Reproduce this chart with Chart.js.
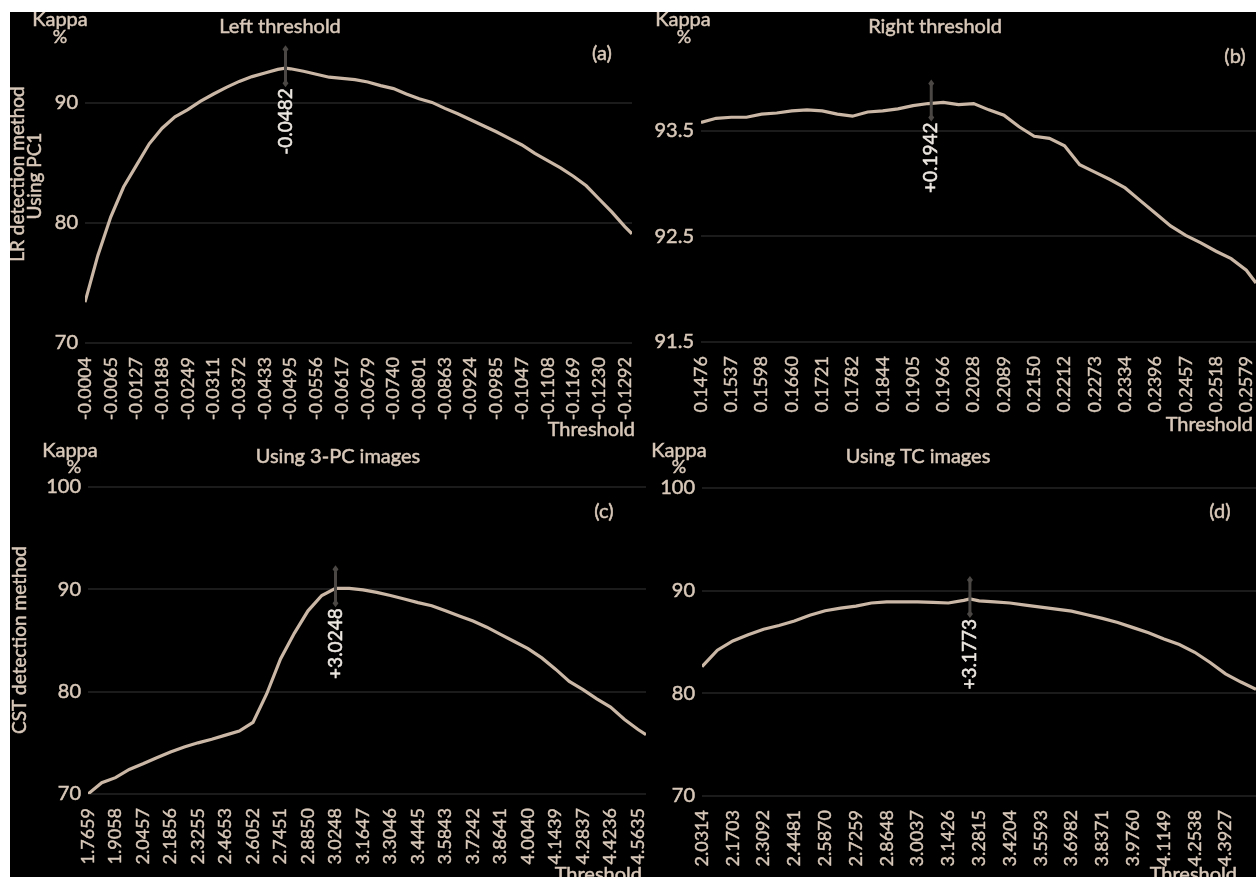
<!DOCTYPE html>
<html>
<head>
<meta charset="utf-8">
<title>Kappa vs threshold</title>
<script src="https://cdn.jsdelivr.net/npm/chart.js@4.4.0/dist/chart.umd.min.js"></script>
<style>
    html, body { margin: 0; padding: 0; background: #fff; overflow: hidden; }
    #board { position: absolute; left: 10px; top: 12px; width: 1246px; height: 865px; background: #000; overflow: hidden; }
    canvas { position: absolute; }
</style>
</head>
<body>
<div id="board">
    <canvas id="chartA" width="630" height="428" style="left:0;top:0"></canvas>
    <canvas id="chartB" width="616" height="428" style="left:630px;top:0"></canvas>
    <canvas id="chartC" width="636" height="445" style="left:0;top:428px"></canvas>
    <canvas id="chartD" width="610" height="445" style="left:636px;top:428px"></canvas>
</div>
<script>
// Etiquetas del eje X (umbral) de cada panel
const ticksA = ['-0.0004', '-0.0065', '-0.0127', '-0.0188', '-0.0249', '-0.0311', '-0.0372', '-0.0433', '-0.0495', '-0.0556', '-0.0617',
    '-0.0679', '-0.0740', '-0.0801', '-0.0863', '-0.0924', '-0.0985', '-0.1047', '-0.1108', '-0.1169', '-0.1230', '-0.1292'];
const ticksB = ['0.1476', '0.1537', '0.1598', '0.1660', '0.1721', '0.1782', '0.1844', '0.1905', '0.1966', '0.2028', '0.2089',
    '0.2150', '0.2212', '0.2273', '0.2334', '0.2396', '0.2457', '0.2518', '0.2579'];
const ticksC = ['1.7659', '1.9058', '2.0457', '2.1856', '2.3255', '2.4653', '2.6052', '2.7451', '2.8850', '3.0248', '3.1647',
    '3.3046', '3.4445', '3.5843', '3.7242', '3.8641', '4.0040', '4.1439', '4.2837', '4.4236', '4.5635'];
const ticksD = ['2.0314', '2.1703', '2.3092', '2.4481', '2.5870', '2.7259', '2.8648', '3.0037', '3.1426', '3.2815', '3.4204',
    '3.5593', '3.6982', '3.8371', '3.9760', '4.1149', '4.2538', '4.3927'];

// Curvas: [posición en el eje de categorías, kappa %]
const curveA = [[0, 73.4], [0.5, 77.3], [1, 80.5], [1.5, 83.0], [2, 84.8], [2.5, 86.6], [3, 87.9], [3.5, 88.85], [4, 89.45],
    [4.5, 90.15], [5, 90.75], [5.5, 91.3], [6, 91.8], [6.5, 92.2], [7, 92.5], [7.5, 92.8], [7.8, 92.9], [8, 92.85], [8.5, 92.65],
    [9, 92.4], [9.5, 92.15], [10, 92.05], [10.5, 91.95], [11, 91.75], [11.5, 91.45], [12, 91.2], [12.5, 90.75], [13, 90.35],
    [13.5, 90.05], [14, 89.55], [14.5, 89.1], [15, 88.6], [15.5, 88.1], [16, 87.6], [16.5, 87.05], [17, 86.5], [17.5, 85.8],
    [18, 85.2], [18.5, 84.6], [19, 83.9], [19.5, 83.1], [20, 82.0], [20.5, 80.9], [21, 79.7], [21.28, 79.1]];
const curveB = [[0, 93.58], [0.5, 93.62], [1, 93.63], [1.5, 93.63], [2, 93.66], [2.5, 93.67], [3, 93.69], [3.5, 93.70], [4, 93.69],
    [4.5, 93.66], [5, 93.64], [5.5, 93.68], [6, 93.69], [6.5, 93.71], [7, 93.74], [7.5, 93.76], [8, 93.77], [8.5, 93.75],
    [9, 93.76], [9.5, 93.70], [10, 93.65], [10.5, 93.54], [11, 93.45], [11.5, 93.43], [12, 93.36], [12.5, 93.18], [13, 93.11],
    [13.5, 93.04], [14, 92.96], [14.5, 92.84], [15, 92.72], [15.5, 92.60], [16, 92.51], [16.5, 92.44], [17, 92.36],
    [17.5, 92.29], [18, 92.18], [18.32, 92.06]];
const curveC = [[0, 70.0], [0.5, 71.1], [1, 71.6], [1.5, 72.4], [2, 72.95], [2.5, 73.55], [3, 74.1], [3.5, 74.6], [4, 75.0],
    [4.5, 75.35], [5, 75.75], [5.5, 76.15], [6, 77.0], [6.5, 79.8], [7, 83.2], [7.5, 85.7], [8, 87.9], [8.5, 89.4], [9, 90.1],
    [9.5, 90.1], [10, 89.95], [10.5, 89.7], [11, 89.4], [11.5, 89.05], [12, 88.7], [12.5, 88.4], [13, 87.9], [13.5, 87.4],
    [14, 86.9], [14.5, 86.3], [15, 85.6], [15.5, 84.9], [16, 84.2], [16.5, 83.3], [17, 82.2], [17.5, 81.0], [18, 80.2],
    [18.5, 79.3], [19, 78.5], [19.5, 77.3], [20, 76.3], [20.29, 75.8]];
const curveD = [[0, 82.6], [0.5, 84.2], [1, 85.1], [1.5, 85.7], [2, 86.25], [2.5, 86.6], [3, 87.05], [3.5, 87.6], [4, 88.05],
    [4.5, 88.3], [5, 88.5], [5.5, 88.8], [6, 88.9], [6.5, 88.9], [7, 88.9], [7.5, 88.85], [8, 88.8], [8.5, 89.05], [8.7, 89.2],
    [9, 89.0], [9.5, 88.9], [10, 88.8], [10.5, 88.6], [11, 88.4], [11.5, 88.2], [12, 88.0], [12.5, 87.65], [13, 87.3],
    [13.5, 86.9], [14, 86.4], [14.5, 85.9], [15, 85.3], [15.5, 84.75], [16, 84.0], [16.5, 83.0], [17, 81.9], [17.5, 81.1],
    [17.99, 80.4]];

// Marcas del eje Y
const yTicksA = [70, 80, 90];
const yTicksB = [91.5, 92.5, 93.5];
const yTicksC = [70, 80, 90, 100];
const yTicksD = [70, 80, 90, 100];

// Umbral óptimo de cada panel: posición, kappa y etiqueta
const peakIndex = [7.8, 7.6, 9.0, 8.7];
const peakKappa = [92.9, 93.77, 90.1, 89.2];
const peakLabels = ['-0.0482', '+0.1942', '+3.0248', '+3.1773'];

const titles = ['Left threshold', 'Right threshold', 'Using 3-PC images', 'Using TC images'];
const panelTags = ['(a)', '(b)', '(c)', '(d)'];

// Colores y fuentes
const lineColor = '#cbb7a5';
const textColor = '#d8c8b9';
const markColor = '#ece6e0';
const gridColor = '#1b1b1b';
const textFont = 'Lato, "Open Sans", sans-serif';

// Textos sueltos (Kappa %, título, letra del panel, títulos de eje) y marca del óptimo
const panelDecor = {
    id: 'panelDecor',
    afterDatasetsDraw(chart, args, opts) {
        const {ctx} = chart;
        const xs = chart.scales.x, ys = chart.scales.y;
        const px = xs.getPixelForValue(opts.peak[0]);
        const py = ys.getPixelForValue(opts.peak[1]);
        ctx.save();
        ctx.strokeStyle = '#4a4744';
        ctx.fillStyle = '#4a4744';
        ctx.lineWidth = 3;
        ctx.beginPath();
        ctx.moveTo(px, py - 17);
        ctx.lineTo(px, py + 13);
        ctx.stroke();
        [py - 19, py + 15].forEach(cy => {
            ctx.beginPath();
            ctx.moveTo(px, cy - 4);
            ctx.lineTo(px + 3, cy);
            ctx.lineTo(px, cy + 4);
            ctx.lineTo(px - 3, cy);
            ctx.closePath();
            ctx.fill();
        });
        ctx.translate(px, py + 20);
        ctx.rotate(-Math.PI / 2);
        ctx.font = '19px ' + textFont;
        ctx.fillStyle = markColor;
        ctx.strokeStyle = markColor;
        ctx.lineWidth = 0.5;
        ctx.textAlign = 'right';
        ctx.textBaseline = 'middle';
        ctx.fillText(opts.peak[2], 0, 0);
        ctx.strokeText(opts.peak[2], 0, 0);
        ctx.restore();
    },
    afterDraw(chart, args, opts) {
        const {ctx} = chart;
        ctx.save();
        ctx.fillStyle = textColor;
        ctx.strokeStyle = textColor;
        ctx.lineWidth = 0.5;
        opts.texts.forEach(t => {
            ctx.save();
            ctx.font = (t.size || 20) + 'px ' + textFont;
            ctx.textAlign = t.align || 'center';
            ctx.textBaseline = t.rot ? 'middle' : 'alphabetic';
            ctx.translate(t.x, t.y);
            if (t.rot) ctx.rotate(-Math.PI / 2);
            ctx.fillText(t.text, 0, 0);
            ctx.strokeText(t.text, 0, 0);
            ctx.restore();
        });
        ctx.restore();
    }
};

function makeChart(id, cfg) {
    const ctx = document.getElementById(id).getContext('2d');
    return new Chart(ctx, {
        type: 'line',
        data: {
            datasets: [{
                data: cfg.curve.map(p => ({x: p[0], y: p[1]})),
                borderColor: lineColor,
                borderWidth: 3.2,
                pointRadius: 0,
                tension: 0,
                fill: false
            }]
        },
        options: {
            responsive: false,
            animation: false,
            events: [],
            layout: {
                padding: {top: cfg.padTop, right: cfg.padRight, left: 0, bottom: 0}
            },
            plugins: {
                legend: {display: false},
                tooltip: {enabled: false},
                panelDecor: {peak: cfg.peak, texts: cfg.texts}
            },
            scales: {
                x: {
                    type: 'linear',
                    min: 0,
                    max: cfg.xMax,
                    grid: {display: false},
                    border: {display: false},
                    afterBuildTicks: scale => {
                        scale.ticks = cfg.ticks.map((label, i) => ({value: i}));
                    },
                    afterFit: scale => {
                        scale.height = cfg.xHeight;
                        scale.paddingLeft = 0;
                        scale.paddingRight = 0;
                    },
                    ticks: {
                        autoSkip: false,
                        minRotation: 90,
                        maxRotation: 90,
                        padding: 6,
                        color: textColor,
                        textStrokeColor: textColor,
                        textStrokeWidth: 0.4,
                        font: {family: textFont, size: 18},
                        callback: value => cfg.ticks[value]
                    }
                },
                y: {
                    type: 'linear',
                    min: cfg.yMin,
                    max: cfg.yMax,
                    grid: {color: gridColor, lineWidth: 2, drawTicks: false},
                    border: {display: false},
                    afterBuildTicks: scale => {
                        scale.ticks = cfg.yTicks.map(v => ({value: v}));
                    },
                    afterFit: scale => {
                        scale.width = cfg.yWidth;
                        scale.paddingTop = 0;
                        scale.paddingBottom = 0;
                    },
                    ticks: {
                        padding: 7,
                        color: textColor,
                        textStrokeColor: textColor,
                        textStrokeWidth: 0.5,
                        font: {family: textFont, size: 20}
                    }
                }
            }
        },
        plugins: [panelDecor]
    });
}

function peakOf(i) {
    return [peakIndex[i], peakKappa[i], peakLabels[i]];
}

// Panel (a)
makeChart('chartA', {
    curve: curveA, ticks: ticksA, yTicks: yTicksA, yMin: 70, yMax: 96, xMax: 21.28,
    yWidth: 75, xHeight: 97, padTop: 19, padRight: 8, peak: peakOf(0),
    texts: [
        {text: 'Kappa', x: 50, y: 14},
        {text: '%', x: 50, y: 31, size: 18},
        {text: titles[0], x: 270, y: 21},
        {text: panelTags[0], x: 592, y: 48},
        {text: 'LR detection method', x: 8, y: 162, rot: true, size: 19},
        {text: 'Using PC1', x: 25, y: 164, rot: true, size: 19},
        {text: 'Threshold', x: 625, y: 424, align: 'right'}
    ]
});

// Panel (b)
makeChart('chartB', {
    curve: curveB, ticks: ticksB, yTicks: yTicksB, yMin: 91.5, yMax: 94.4, xMax: 18.32,
    yWidth: 61, xHeight: 98, padTop: 24, padRight: 0, peak: peakOf(1),
    texts: [
        {text: 'Kappa', x: 43, y: 14},
        {text: '%', x: 44, y: 31, size: 18},
        {text: titles[1], x: 295, y: 21},
        {text: panelTags[1], x: 595, y: 51},
        {text: 'Threshold', x: 613, y: 419, align: 'right'}
    ]
});

// Panel (c)
makeChart('chartC', {
    curve: curveC, ticks: ticksC, yTicks: yTicksC, yMin: 70, yMax: 100, xMax: 20.29,
    yWidth: 78, xHeight: 91, padTop: 47, padRight: 0, peak: peakOf(2),
    texts: [
        {text: 'Kappa', x: 60, y: 17},
        {text: '%', x: 64, y: 33, size: 18},
        {text: titles[2], x: 328, y: 23},
        {text: panelTags[2], x: 594, y: 78},
        {text: 'CST detection method', x: 10, y: 200, rot: true, size: 19},
        {text: 'Threshold', x: 632, y: 441, align: 'right'}
    ]
});

// Panel (d)
makeChart('chartD', {
    curve: curveD, ticks: ticksD, yTicks: yTicksD, yMin: 70, yMax: 100, xMax: 17.99,
    yWidth: 56, xHeight: 89, padTop: 48, padRight: 0, peak: peakOf(3),
    texts: [
        {text: 'Kappa', x: 33, y: 17},
        {text: '%', x: 33, y: 33, size: 18},
        {text: titles[3], x: 272, y: 23},
        {text: panelTags[3], x: 574, y: 78},
        {text: 'Threshold', x: 591, y: 441, align: 'right'}
    ]
});
</script>
</body>
</html>
